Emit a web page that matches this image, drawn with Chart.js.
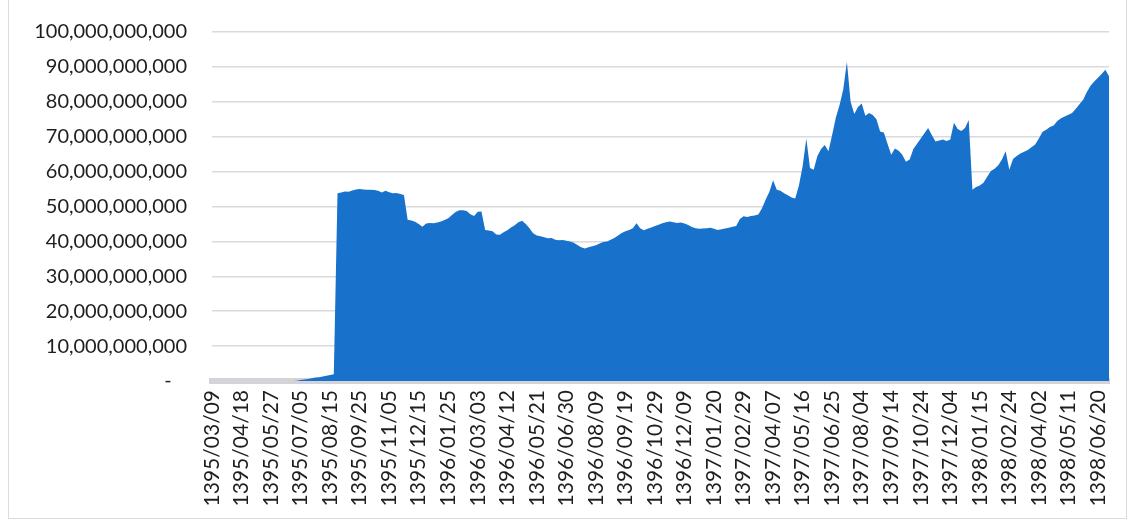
<!DOCTYPE html>
<html>
<head>
    <title>Market Value</title>
    <script src="https://cdn.jsdelivr.net/npm/chart.js"></script>
    <style>
        html, body { margin: 0; padding: 0; background: #fff; }
        #frame { position: absolute; left: 8px; top: -2px; width: 1117px; height: 519px; border: 1px solid #dcdcdc; }
        #wrap { position: absolute; left: 0; top: 0; width: 1132px; height: 524px; }
    </style>
</head>
<body>
    <div id="frame"></div>
    <div id="wrap"><canvas id="myChart"></canvas></div>

    <script>
        // tick labels shown on the x axis, one every STEP points
        const tickLabels = [
            '1395/03/09', '1395/04/18', '1395/05/27', '1395/07/05', '1395/08/15', '1395/09/25',
            '1395/11/05', '1395/12/15', '1396/01/25', '1396/03/03', '1396/04/12', '1396/05/21',
            '1396/06/30', '1396/08/09', '1396/09/19', '1396/10/29', '1396/12/09', '1397/01/20',
            '1397/02/29', '1397/04/07', '1397/05/16', '1397/06/25', '1397/08/04', '1397/09/14',
            '1397/10/24', '1397/12/04', '1398/01/15', '1398/02/24', '1398/04/02', '1398/05/11',
            '1398/06/20'
        ];
        const STEP = 8;

        // values in billions
        const valuesBn = [
            0, 0, 0, 0, 0, 0, 0, 0,
            0, 0, 0, 0, 0, 0, 0, 0,
            0, 0, 0, 0, 0, 0, 0,
            0.1, 0.3, 0.4, 0.6, 0.8, 1.0, 1.1, 1.3,
            1.5, 1.7, 1.9, 53.8, 54.0, 54.3, 54.2, 54.6,
            54.9, 55.0, 54.9, 54.8, 54.8, 54.7, 54.5, 54.0,
            54.5, 54.1, 53.8, 53.9, 53.6, 53.3, 46.2,
            46.0, 45.6, 45.0, 44.2, 45.1, 45.3, 45.2, 45.4,
            45.7, 46.1, 46.6, 47.6, 48.4, 48.9, 48.9, 48.7,
            47.8, 47.3, 48.5, 48.6, 43.3, 43.1, 42.9,
            42.0, 41.9, 42.6, 43.2, 44.0, 44.6, 45.5, 45.9,
            45.0, 43.8, 42.3, 41.7, 41.5, 41.2, 40.9, 41.0,
            40.5, 40.3, 40.4, 40.2, 40.0, 39.6, 39.0, 38.3,
            38.0, 38.3, 38.6, 38.9, 39.4, 39.8, 40.0,
            40.5, 41.0, 41.7, 42.4, 42.9, 43.3, 43.8, 45.2,
            43.8, 43.2, 43.6, 44.0, 44.4, 44.8, 45.2, 45.5,
            45.7, 45.5, 45.3, 45.4, 45.1, 44.7, 44.1, 43.8,
            43.6, 43.7, 43.8, 43.9, 43.6, 43.3, 43.5,
            43.7, 43.9, 44.2, 44.4, 46.4, 47.2, 47.0, 47.3,
            47.4, 47.7, 49.5, 52.0, 54.2, 57.5, 54.8, 54.5,
            53.8, 53.2, 52.6, 52.3, 56.0, 61.5, 69.5, 61.0,
            60.5, 64.5, 66.5, 67.6, 65.8, 70.5, 75.5,
            79.0, 83.5, 91.5, 80.0, 76.5, 78.5, 79.5, 76.0,
            76.8, 76.2, 75.0, 71.5, 71.2, 68.0, 64.8, 66.6,
            66.0, 64.8, 62.8, 63.5, 66.5, 68.0, 69.5, 71.0,
            72.5, 70.5, 68.6, 68.9, 69.2, 68.8, 69.2,
            74.0, 72.2, 71.6, 72.5, 74.8, 54.8, 55.6, 56.0,
            56.8, 58.5, 60.2, 60.8, 61.8, 63.5, 65.8, 60.5,
            63.6, 64.5, 65.2, 65.7, 66.2, 67.0, 67.8, 69.5,
            71.4, 72.0, 72.8, 73.2, 74.5, 75.3, 75.8,
            76.3, 76.8, 78.0, 79.3, 80.6, 82.8, 84.6, 85.8,
            86.9, 88.0, 89.2, 87.3
        ];

        const categories = valuesBn.map((v, i) => i);
        const values = valuesBn.map(v => v * 1e9);

        const ctx = document.getElementById('myChart').getContext('2d');
        const myChart = new Chart(ctx, {
            type: 'line',
            data: {
                labels: categories,
                datasets: [{
                    data: values,
                    backgroundColor: '#1872cc',
                    borderWidth: 0,
                    pointRadius: 0,
                    fill: 'origin',
                    tension: 0
                }]
            },
            options: {
                responsive: true,
                maintainAspectRatio: false,
                animation: false,
                layout: { padding: { left: 0, right: 23, top: 32, bottom: 0 } },
                plugins: { legend: { display: false }, tooltip: { enabled: false } },
                scales: {
                    x: {
                        grid: { display: false, drawTicks: false },
                        border: { display: true, color: '#d3d3d8', width: 6 },
                        ticks: {
                            autoSkip: false,
                            maxRotation: 90,
                            minRotation: 90,
                            padding: 9,
                            color: '#1e1e1e',
                            font: { family: 'Lato', size: 21 },
                            callback: function (val, idx) {
                                return idx % STEP === 0 ? tickLabels[idx / STEP] : '';
                            }
                        },
                        afterFit: function (scale) {
                            scale.height = 143;
                            scale.paddingLeft = 0;
                            scale.paddingRight = 0;
                        }
                    },
                    y: {
                        min: 0,
                        max: 100e9,
                        grid: { color: '#dadade', lineWidth: 1.5, drawTicks: false },
                        border: { display: false },
                        ticks: {
                            stepSize: 10e9,
                            padding: 25,
                            color: '#1e1e1e',
                            font: { family: 'Lato', size: 20 },
                            callback: function (v) {
                                return v === 0 ? '-   ' : v.toLocaleString('en-US');
                            }
                        },
                        afterFit: function (scale) {
                            scale.width = 212;
                            scale.paddingTop = 0;
                            scale.paddingBottom = 0;
                        }
                    }
                }
            }
        });
    </script>
</body>
</html>
